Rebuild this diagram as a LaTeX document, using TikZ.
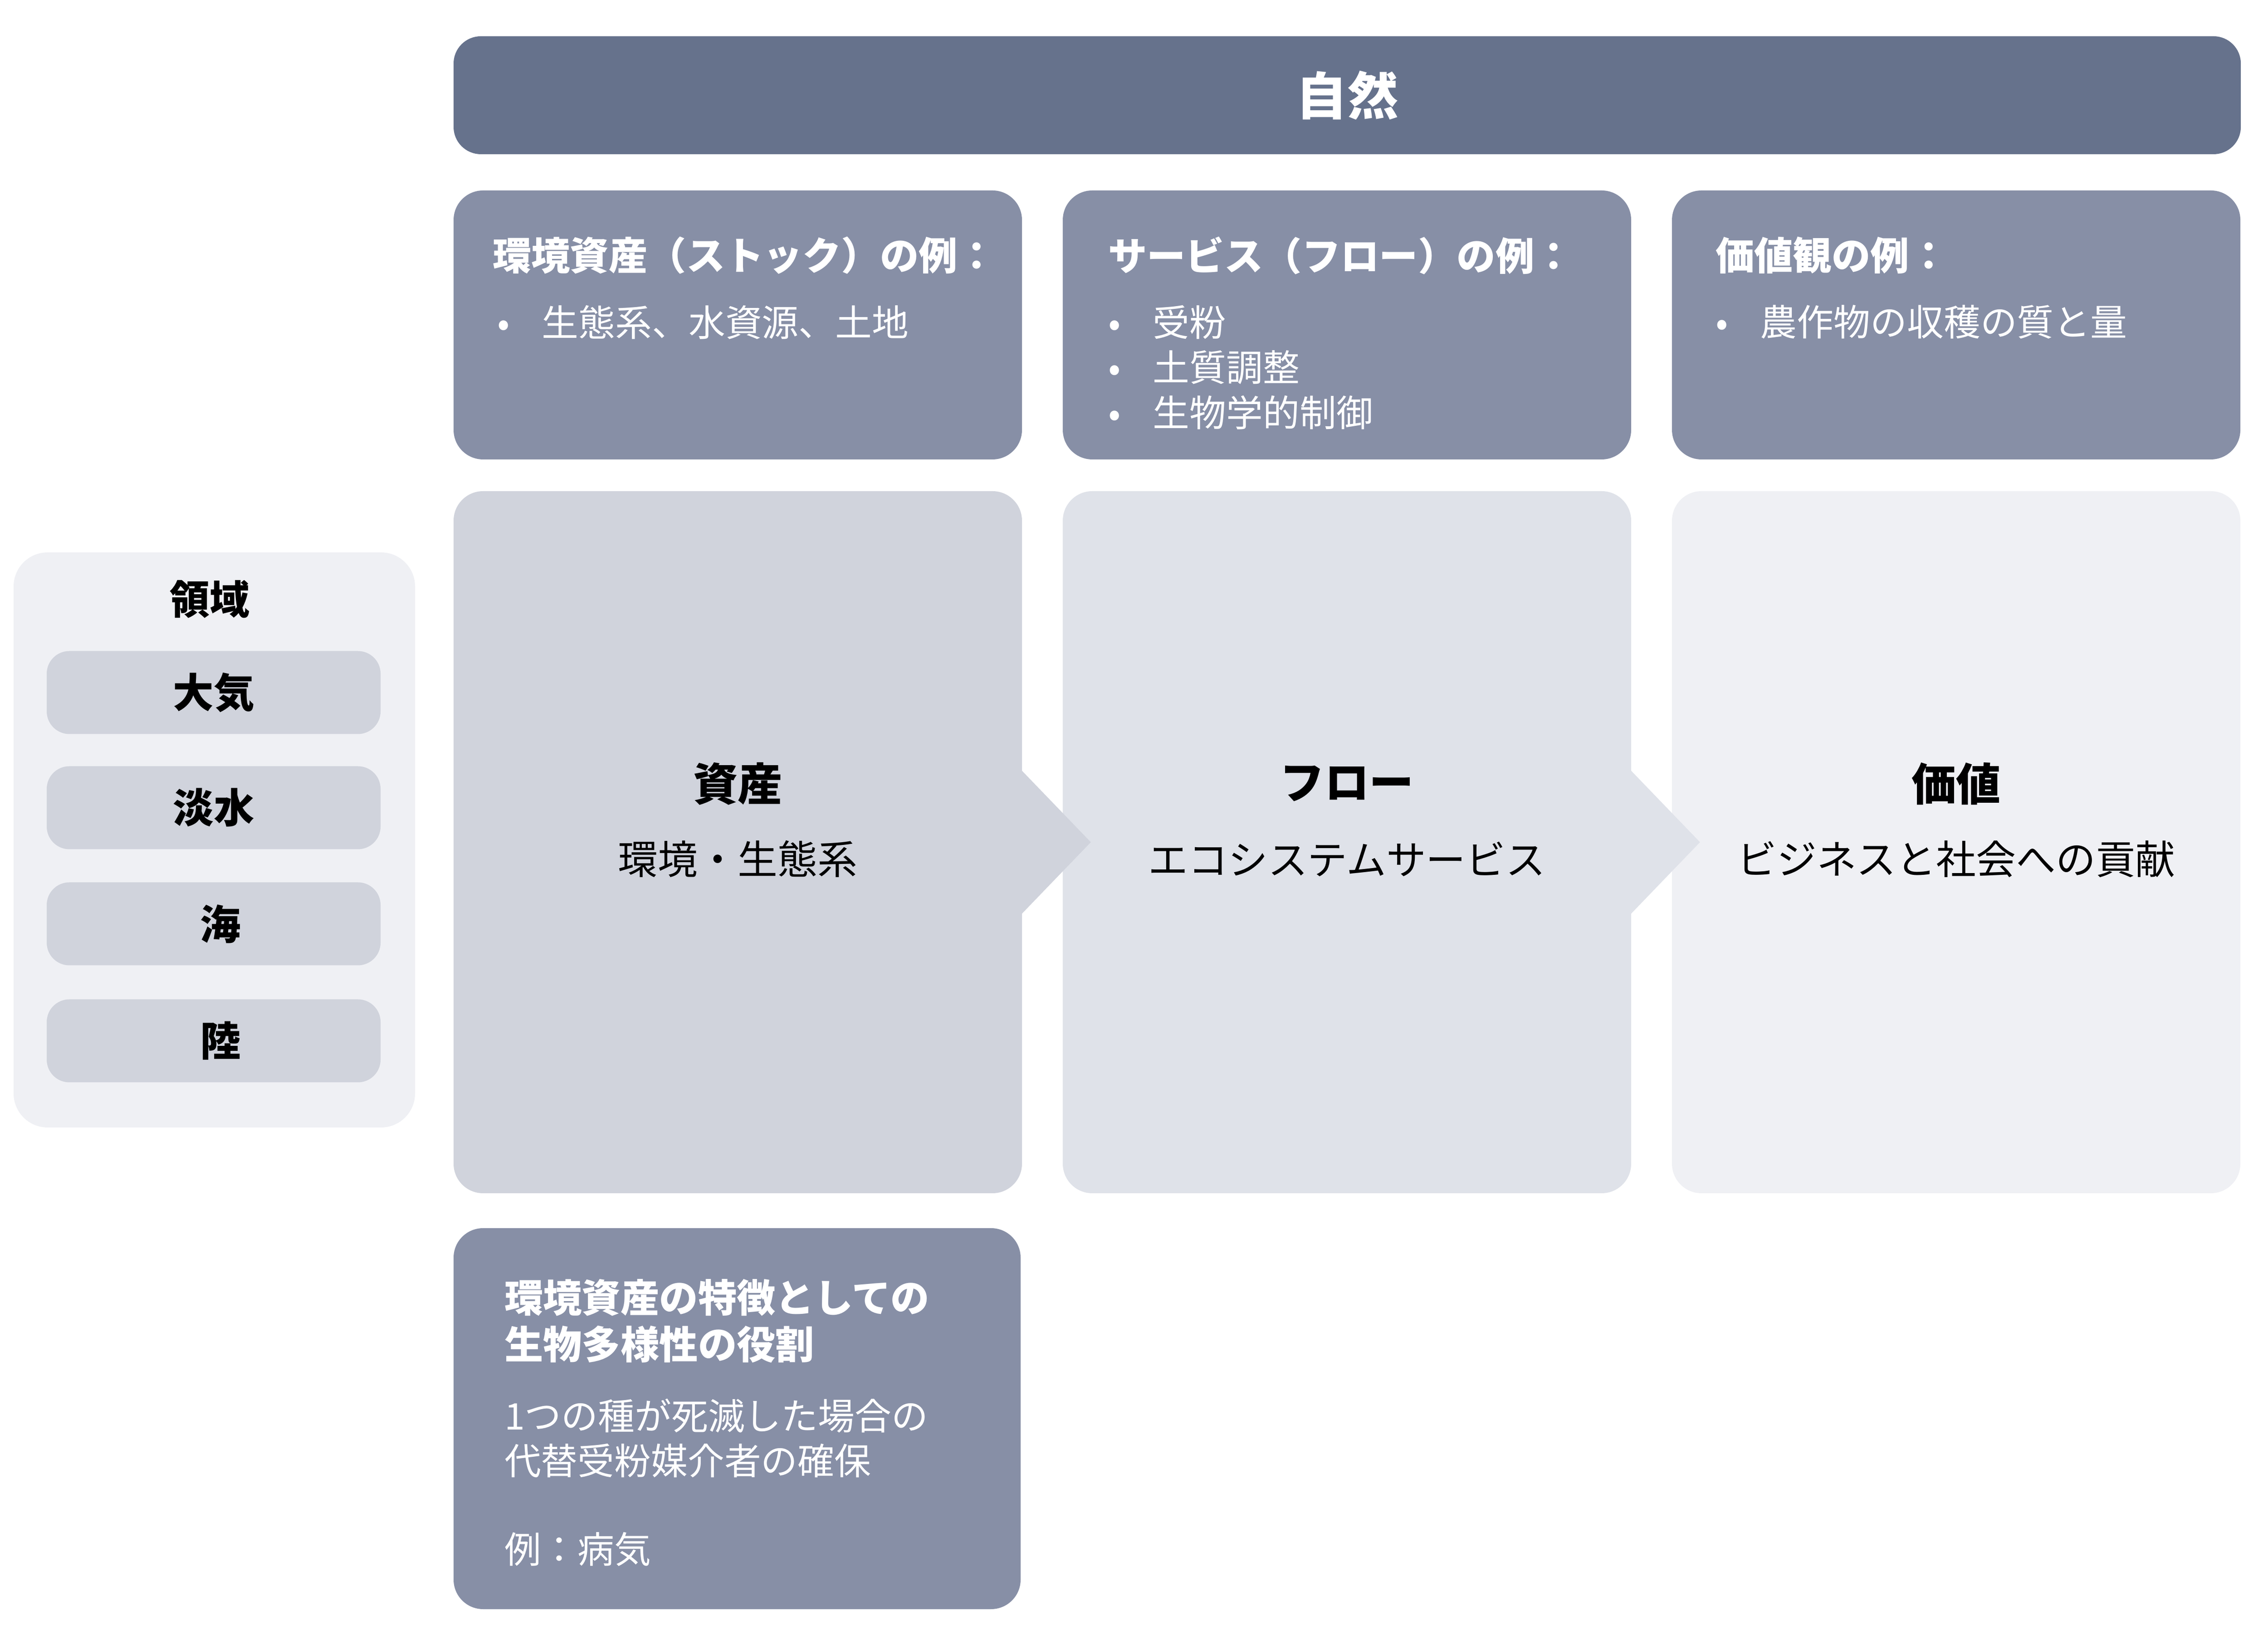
\documentclass[tikz,border=0pt]{standalone}
\usepackage{fontspec}
\setmainfont{Noto Sans CJK JP}
\usepackage{tikz}

\definecolor{naturec}{HTML}{66728C}
\definecolor{examplec}{HTML}{878FA6}
\definecolor{assetc}{HTML}{D0D3DC}
\definecolor{flowc}{HTML}{DFE2E9}
\definecolor{valuec}{HTML}{EFF0F4}

\newcommand{\bul}{\makebox[0.99cm][l]{•}}

\begin{document}
\begin{tikzpicture}[
  box/.style={rectangle, rounded corners=0.65cm, inner sep=0pt},
  exbox/.style={box, fill=examplec, minimum width=12.53cm, minimum height=5.93cm},
  colbox/.style={box, minimum width=12.53cm, minimum height=15.48cm},
  realm/.style={box, fill=assetc, rounded corners=0.5cm, minimum width=7.36cm, minimum height=1.83cm,
    font=\fontsize{25.5pt}{30pt}\selectfont\bfseries},
  hd/.style={anchor=west, text=white, inner sep=0pt, font=\fontsize{24.3pt}{29pt}\selectfont\bfseries},
  entry/.style={anchor=west, text=white, inner sep=0pt, font=\fontsize{23pt}{28pt}\selectfont},
  coltitle/.style={inner sep=0pt, font=\fontsize{28pt}{33pt}\selectfont\bfseries},
  colsub/.style={inner sep=0pt, font=\fontsize{25pt}{30pt}\selectfont}
]
\useasboundingbox (0,0) rectangle (50,35.82);

%% banner
\node[box, fill=naturec, rounded corners=0.6cm, minimum width=39.4cm, minimum height=2.6cm,
  text=white, font=\fontsize{32pt}{38pt}\selectfont\bfseries] (nature) at (29.7,33.72) {自然};

%% example boxes
\node[exbox] (stockex) at (16.265,28.655) {};
\node[exbox] (flowex) at (29.695,28.655) {};
\node[exbox] (valueex) at (43.125,28.655) {};

\node[hd] (stockhd) at ([xshift=0.86cm,yshift=-1.44cm]stockex.north west) {環境資産（ストック）の例：};
\node[entry] (stock1) at ([xshift=0.96cm,yshift=-2.91cm]stockex.north west) {\bul 生態系、水資源、土地};

\node[hd] (flowhd) at ([xshift=1.0cm,yshift=-1.44cm]flowex.north west) {サービス（フロー）の例：};
\node[entry] (flow1) at ([xshift=1.0cm,yshift=-2.91cm]flowex.north west) {\bul 受粉};
\node[entry] (flow2) at ([xshift=1.0cm,yshift=-3.91cm]flowex.north west) {\bul 土質調整};
\node[entry] (flow3) at ([xshift=1.0cm,yshift=-4.90cm]flowex.north west) {\bul 生物学的制御};

\node[hd] (valuehd) at ([xshift=0.96cm,yshift=-1.44cm]valueex.north west) {価値観の例：};
\node[entry] (value1) at ([xshift=0.96cm,yshift=-2.91cm]valueex.north west) {\bul 農作物の収穫の質と量};

%% main columns
\node[colbox, fill=assetc] (asset) at (16.265,17.25) {};
\node[colbox, fill=flowc] (flow) at (29.695,17.25) {};
\node[colbox, fill=valuec] (value) at (43.125,17.25) {};

%% chevrons
\fill[assetc] ([xshift=-0.05cm,yshift=1.62cm]asset.east) -- ([xshift=1.51cm]asset.east)
  -- ([xshift=-0.05cm,yshift=-1.62cm]asset.east) -- cycle;
\fill[flowc] ([xshift=-0.05cm,yshift=1.62cm]flow.east) -- ([xshift=1.51cm]flow.east)
  -- ([xshift=-0.05cm,yshift=-1.62cm]flow.east) -- cycle;

\node[coltitle] (assett) at ([yshift=1.29cm]asset.center) {資産};
\node[colsub] (assets) at ([yshift=-0.37cm]asset.center) {環境・生態系};
\node[coltitle] (flowt) at ([yshift=1.29cm]flow.center) {フロー};
\node[colsub] (flows) at ([yshift=-0.37cm]flow.center) {エコシステムサービス};
\node[coltitle] (valuet) at ([yshift=1.29cm]value.center) {価値};
\node[colsub] (values) at ([yshift=-0.37cm]value.center) {ビジネスと社会への貢献};

%% realms
\node[box, fill=valuec, rounded corners=0.75cm, minimum width=8.85cm, minimum height=12.68cm] (realms) at (4.725,17.30) {};
\node[inner sep=0pt, font=\fontsize{25pt}{30pt}\selectfont\bfseries] (realmt) at (4.62,22.61) {領域};
\node[realm] (air) at (4.71,20.55) {大気};
\node[realm] (fresh) at (4.71,18.01) {淡水};
\node[realm] (sea) at (4.71,15.45) {\hspace{0.3cm}海};
\node[realm] (land) at (4.71,12.87) {\hspace{0.3cm}陸};

%% biodiversity box
\node[box, fill=examplec, minimum width=12.5cm, minimum height=8.4cm] (bio) at (16.25,4.54) {};
\node[hd] (bio1) at ([xshift=1.12cm,yshift=-1.54cm]bio.north west) {環境資産の特徴としての};
\node[hd] (bio2) at ([xshift=1.12cm,yshift=-2.57cm]bio.north west) {生物多様性の役割};
\node[entry] (bio3) at ([xshift=1.12cm,yshift=-4.14cm]bio.north west) {1つの種が死滅した場合の};
\node[entry] (bio4) at ([xshift=1.12cm,yshift=-5.13cm]bio.north west) {代替受粉媒介者の確保};
\node[entry] (bio5) at ([xshift=1.12cm,yshift=-7.09cm]bio.north west) {例：病気};

\end{tikzpicture}
\end{document}
